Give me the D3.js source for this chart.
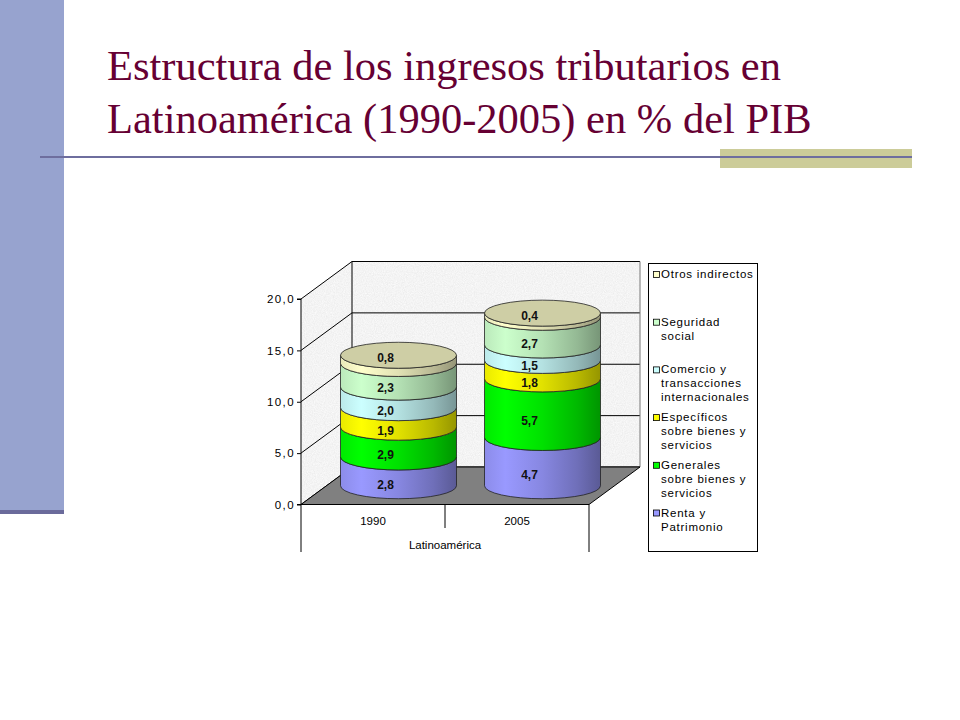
<!DOCTYPE html>
<html>
<head>
<meta charset="utf-8">
<script src="https://cdn.jsdelivr.net/npm/d3@7"></script>
<style>
  html, body { margin: 0; padding: 0; background: #fff; }
  svg { display: block; }
</style>
</head>
<body>
<svg id="chart" width="960" height="720"></svg>
<script>
// ---- data ----
const titleLines = ["Estructura de los ingresos tributarios en", "Latinoamérica (1990-2005) en % del PIB"];
const categories = ["1990", "2005"];
const groupLabel = "Latinoamérica";
const seriesNames = [
  "Renta y\nPatrimonio",
  "Generales\nsobre bienes y\nservicios",
  "Específicos\nsobre bienes y\nservicios",
  "Comercio y\ntransacciones\ninternacionales",
  "Seguridad\nsocial",
  "Otros indirectos"
];
const renta = [2.8, 4.7];
const generales = [2.9, 5.7];
const especificos = [1.9, 1.8];
const comercio = [2.0, 1.5];
const seguridad = [2.3, 2.7];
const otros = [0.8, 0.4];
const seriesValues = [renta, generales, especificos, comercio, seguridad, otros];
const seriesColors = ["#9999ff", "#00ff00", "#ffff00", "#ccffff", "#ccffcc", "#ffffcc"];
const yTicks = [0, 5, 10, 15, 20];

// ---- layout ----
const FONT = "Arial, 'Liberation Sans', sans-serif";
const svg = d3.select("#chart");
const defs = svg.append("defs");

// slide decoration
svg.append("rect").attr("x", 0).attr("y", 0).attr("width", 64).attr("height", 510).attr("fill", "#97a3cf");
svg.append("rect").attr("x", 0).attr("y", 510).attr("width", 64).attr("height", 4).attr("fill", "#6b6b9b");
svg.append("rect").attr("x", 720).attr("y", 149).attr("width", 192).attr("height", 19).attr("fill", "#cccc99");
svg.append("line").attr("x1", 40).attr("x2", 912).attr("y1", 157).attr("y2", 157)
  .attr("stroke", "#6e6e9e").attr("stroke-width", 2);

svg.selectAll("text.title").data(titleLines).join("text")
  .attr("class", "title")
  .attr("x", 107).attr("y", (d, i) => 80 + i * 52.7)
  .attr("font-family", "'Liberation Serif', 'Times New Roman', serif")
  .attr("font-size", 42.5).attr("fill", "#660033")
  .text(d => d);

// chart geometry
const x0 = 301, x1 = 589;
const depthX = 51, depthY = -37.5;
const y = d3.scaleLinear().domain([0, 20]).range([504.5, 299]);
const x = d3.scaleBand().domain(categories).range([x0, x1]);
const rx = 58, ry = 13;

// wall texture filter
const filt = defs.append("filter").attr("id", "granite").attr("x", 0).attr("y", 0).attr("width", 1).attr("height", 1);
filt.append("feTurbulence").attr("type", "fractalNoise").attr("baseFrequency", 0.9).attr("numOctaves", 2).attr("seed", 3).attr("result", "n");
filt.append("feColorMatrix").attr("in", "n").attr("type", "matrix")
  .attr("values", "0.18 0 0 0 0.81  0.18 0 0 0 0.81  0.18 0 0 0 0.81  0 0 0 0 1").attr("result", "c");
filt.append("feComposite").attr("in", "c").attr("in2", "SourceGraphic").attr("operator", "in");

const yTop = y(20), yBot = y(0);
// left wall
svg.append("path")
  .attr("d", `M${x0},${yTop} L${x0 + depthX},${yTop + depthY} L${x0 + depthX},${yBot + depthY} L${x0},${yBot} Z`)
  .attr("fill", "#e4e4e4").attr("filter", "url(#granite)");
// back wall
svg.append("rect")
  .attr("x", x0 + depthX).attr("y", yTop + depthY)
  .attr("width", x1 - x0).attr("height", yBot - yTop)
  .attr("fill", "#e4e4e4").attr("filter", "url(#granite)");

// gridlines
const grid = svg.append("g").attr("stroke", "#000").attr("stroke-width", 1).attr("fill", "none");
yTicks.forEach(t => {
  grid.append("path")
    .attr("d", `M${x0},${y(t)} L${x0 + depthX},${y(t) + depthY} L${x1 + depthX},${y(t) + depthY}`);
});
grid.append("line").attr("x1", x0 + depthX).attr("x2", x0 + depthX).attr("y1", yTop + depthY).attr("y2", yBot + depthY);
grid.append("line").attr("x1", x1 + depthX).attr("x2", x1 + depthX).attr("y1", yTop + depthY).attr("y2", yBot + depthY).attr("stroke", "#777");

// floor
svg.append("path")
  .attr("d", `M${x0},${yBot} L${x1},${yBot} L${x1 + depthX},${yBot + depthY} L${x0 + depthX},${yBot + depthY} Z`)
  .attr("fill", "#808080").attr("stroke", "#000").attr("stroke-width", 1);

// y axis
const yAxis = d3.axisLeft(y).tickValues(yTicks).tickSize(4).tickPadding(2)
  .tickFormat(d => d3.format(".1f")(d).replace(".", ","));
const ya = svg.append("g").attr("transform", `translate(${x0},0)`).call(yAxis);
ya.select(".domain").attr("stroke", "#000").attr("d", `M-4,${yTop}H0V${yBot}H-4`);
ya.selectAll("text").attr("font-family", FONT).attr("font-size", 11.5).attr("letter-spacing", 1.4).attr("fill", "#000");
ya.selectAll("line").attr("stroke", "#000");

// category axis lines
const cat = svg.append("g").attr("stroke", "#000").attr("stroke-width", 1);
cat.append("line").attr("x1", x0).attr("x2", x0).attr("y1", yBot).attr("y2", 552);
cat.append("line").attr("x1", x1).attr("x2", x1).attr("y1", yBot).attr("y2", 552);
cat.append("line").attr("x1", x("2005")).attr("x2", x("2005")).attr("y1", yBot).attr("y2", 528);

svg.selectAll("text.cat").data(categories).join("text")
  .attr("class", "cat")
  .attr("x", d => x(d) + x.bandwidth() / 2).attr("y", 525)
  .attr("text-anchor", "middle")
  .attr("font-family", FONT).attr("font-size", 11.5)
  .text(d => d);
svg.append("text")
  .attr("x", (x0 + x1) / 2).attr("y", 549)
  .attr("text-anchor", "middle")
  .attr("font-family", FONT).attr("font-size", 11.5)
  .text(groupLabel);

// gradients
seriesColors.forEach((c, i) => {
  const g = defs.append("linearGradient").attr("id", "grad" + i).attr("x1", 0).attr("x2", 1).attr("y1", 0).attr("y2", 0);
  const base = d3.rgb(c);
  [[0, base.darker(0.25)], [0.18, base], [0.5, base.darker(0.35)], [0.8, base.darker(0.9)], [1, base.darker(1.5)]]
    .forEach(([o, col]) => g.append("stop").attr("offset", o).attr("stop-color", col.formatHex()));
});

// cylinders
const stackGen = d3.stack().keys(d3.range(seriesValues.length)).value((d, k) => seriesValues[k][d]);
const stacked = stackGen(d3.range(categories.length));

const cyl = svg.append("g");
categories.forEach((c, ci) => {
  const cx = x(c) + x.bandwidth() / 2 + depthX / 2;
  const yy = v => y(v) + depthY / 2;
  const g = cyl.append("g");
  stacked.forEach((s, si) => {
    const [v0, v1] = s[ci];
    const ya0 = yy(v0), ya1 = yy(v1);
    g.append("path")
      .attr("d", `M${cx - rx},${ya1} L${cx - rx},${ya0} A${rx},${ry} 0 0 0 ${cx + rx},${ya0} L${cx + rx},${ya1} A${rx},${ry} 0 0 1 ${cx - rx},${ya1} Z`)
      .attr("fill", `url(#grad${si})`)
      .attr("stroke", "#222").attr("stroke-width", 0.8);
  });
  const last = stacked[stacked.length - 1][ci];
  const topY = yy(last[1]);
  g.append("ellipse")
    .attr("cx", cx).attr("cy", topY).attr("rx", rx).attr("ry", ry)
    .attr("fill", d3.rgb(seriesColors[seriesColors.length - 1]).darker(0.6).formatHex())
    .attr("stroke", "#222").attr("stroke-width", 0.8);
  // labels
  stacked.forEach((s, si) => {
    const [v0, v1] = s[ci];
    const isTop = si === stacked.length - 1;
    const ly = isTop ? topY + 4 : yy((v0 + v1) / 2) + 14;
    g.append("text")
      .attr("x", cx - 13).attr("y", ly)
      .attr("text-anchor", "middle").attr("dominant-baseline", "middle")
      .attr("font-family", FONT).attr("font-size", 12).attr("font-weight", "bold")
      .attr("fill", "#111")
      .text(d3.format(".1f")(seriesValues[si][ci]).replace(".", ","));
  });
});

// legend
const lg = svg.append("g");
lg.append("rect").attr("x", 648.5).attr("y", 263.5).attr("width", 109).attr("height", 288)
  .attr("fill", "#fff").attr("stroke", "#000").attr("stroke-width", 1);
const order = d3.range(seriesNames.length).reverse();
order.forEach((si, k) => {
  const top = 275 + k * 47.7;
  lg.append("rect").attr("x", 653.5).attr("y", top - 3.5).attr("width", 6).attr("height", 6)
    .attr("fill", seriesColors[si]).attr("stroke", "#000").attr("stroke-width", 0.8);
  seriesNames[si].split("\n").forEach((line, li) => {
    lg.append("text")
      .attr("x", 661).attr("y", top + li * 14)
      .attr("dominant-baseline", "middle")
      .attr("font-family", FONT).attr("font-size", 11.5).attr("letter-spacing", 0.75)
      .attr("fill", "#000")
      .text(line);
  });
});
</script>
</body>
</html>
